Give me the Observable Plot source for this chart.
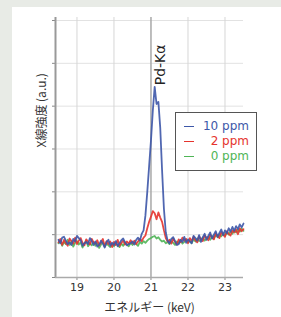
<!DOCTYPE html>
<html><head><meta charset="utf-8">
<script src="https://cdn.jsdelivr.net/npm/d3@7"></script>
<script src="https://cdn.jsdelivr.net/npm/@observablehq/plot@0.6"></script>
<style>
html,body{margin:0;padding:0;background:#e8ebe6;width:281px;height:317px;overflow:hidden}
#panel{position:absolute;left:12px;top:7px;width:269px;height:310px;background:#fff}
#legend{position:absolute;left:163px;top:105px;width:80px;height:57px;border:1px solid #555;background:#fff;font-family:"DejaVu Sans",sans-serif;font-size:12px}
.row{position:absolute;left:0;width:73px;height:14px;text-align:right}
.row span.sw{position:absolute;left:8px;top:7px;width:10px;height:0;border-top:1.5px solid}
</style></head><body>
<div id="panel"><div id="chart"></div>
<div id="legend"></div></div>
<script>
const series = ["10 ppm", "2 ppm", "0 ppm"];
const colors = ["#3d57a8", "#e5332d", "#4fb556"];
const energyStart = 18.5, energyStep = 0.05;
const blue = [0.88,0.80,0.93,0.95,0.86,0.78,0.82,0.76,0.90,0.84,
0.97,0.92,0.87,0.74,0.80,0.83,0.78,0.92,0.85,0.76,
0.84,0.72,0.76,0.86,0.79,0.70,0.83,0.88,0.74,0.81,
0.76,0.85,0.73,0.80,0.87,0.91,0.82,0.75,0.78,0.80,
0.84,0.77,0.88,0.93,0.86,1.02,1.10,1.45,2.0,2.6,
3.2,3.9,4.45,4.05,4.1,3.5,2.5,1.6,1.05,0.86,
0.80,0.90,0.94,0.85,0.76,0.78,0.88,0.83,0.95,0.81,
0.89,0.84,0.80,0.97,0.92,0.86,0.99,0.83,0.94,1.02,
0.88,0.97,1.05,0.91,1.00,1.08,0.95,1.04,1.12,0.99,
1.10,1.03,1.15,1.07,1.18,1.09,1.20,1.13,1.24,1.17,1.26];
const red = [0.82,0.90,0.76,0.88,0.80,0.74,0.91,0.85,0.79,0.93,
0.78,0.86,0.92,0.81,0.75,0.89,0.84,0.77,0.90,0.82,
0.79,0.87,0.75,0.82,0.90,0.73,0.85,0.78,0.84,0.71,
0.83,0.76,0.88,0.74,0.81,0.86,0.77,0.84,0.79,0.87,
0.80,0.86,0.78,0.84,0.90,0.85,0.93,0.98,1.15,1.30,
1.42,1.55,1.50,1.36,1.52,1.40,1.30,1.10,0.92,0.84,
0.88,0.79,0.91,0.83,0.77,0.89,0.82,0.93,0.86,0.90,
0.80,0.92,0.85,0.95,0.87,0.82,0.96,0.90,0.85,0.98,
0.93,0.87,1.00,0.94,0.89,1.03,0.97,0.92,1.06,1.00,
0.95,1.08,1.02,0.98,1.10,1.05,1.12,1.01,1.15,1.08,1.13];
const green = [0.80,0.86,0.74,0.83,0.78,0.88,0.76,0.84,0.72,0.81,
0.85,0.77,0.82,0.70,0.79,0.86,0.73,0.80,0.75,0.83,
0.74,0.80,0.69,0.77,0.83,0.72,0.79,0.75,0.71,0.78,
0.73,0.80,0.76,0.71,0.79,0.74,0.82,0.77,0.73,0.81,
0.76,0.82,0.78,0.74,0.83,0.79,0.85,0.81,0.86,0.90,
0.92,0.95,0.97,0.91,0.94,0.88,0.84,0.86,0.80,0.83,
0.78,0.85,0.81,0.76,0.84,0.80,0.87,0.79,0.83,0.88,
0.82,0.86,0.80,0.89,0.84,0.91,0.85,0.88,0.93,0.86,
0.90,0.95,0.88,0.97,0.92,0.99,0.94,1.01,0.96,1.03,
0.98,1.05,1.00,1.08,1.02,1.10,1.05,1.12,1.07,1.14,1.09];
const xTicks = [19, 20, 21, 22, 23];
const yTicks = [0, 1, 2, 3, 4, 5, 6];
const peakLabel = [{energy: 21.1, text: "Pd-Kα"}];
const xLabel = "エネルギー (keV)";
const yLabel = "X線強度 (a.u.)";

const values = [blue, red, green];
const rows = [];
[2, 1, 0].forEach(s => values[s].forEach((v, i) => rows.push({series: series[s], energy: energyStart + i * energyStep, value: v})));

const font = '"DejaVu Sans","Noto Sans CJK JP",sans-serif';
const jp = '"Noto Sans CJK JP","DejaVu Sans",sans-serif';
const chart = Plot.plot({
  width: 269, height: 310,
  marginLeft: 43, marginRight: 38, marginTop: 10, marginBottom: 40,
  style: {fontFamily: font, fontSize: "11px", color: "#333", background: "transparent"},
  x: {domain: [18.42, 23.5]},
  y: {domain: [0, 6.07]},
  color: {domain: series, range: colors},
  marks: [
    Plot.ruleY(yTicks.slice(1), {stroke: "#e2e2e2", strokeWidth: 1}),
    Plot.ruleX(xTicks, {stroke: d => d === 21 ? "#a8a8a8" : "#d6d6d6", strokeWidth: d => d === 21 ? 1.5 : 1}),
    Plot.line(rows, {x: "energy", y: "value", z: "series", stroke: "series", strokeWidth: 1.8, strokeOpacity: 0.9}),
    Plot.axisX({ticks: xTicks, tickSize: 3, tickPadding: 3, tickFormat: d3.format("d"), label: null, fontSize: 11, stroke: "#888"}),
    Plot.axisY({ticks: yTicks, tickSize: 3, tickFormat: () => "", label: null, stroke: "#888"}),
    Plot.ruleX([18.42], {stroke: "#999", strokeWidth: 2}),
    Plot.ruleY([0], {stroke: "#aaa", strokeWidth: 1.5}),
    Plot.text(peakLabel, {x: "energy", text: "text", frameAnchor: "top", dy: 27, rotate: -90, textAnchor: "end", fontSize: 14, fill: "#222"}),
    Plot.text([xLabel], {text: d => d, frameAnchor: "bottom", dy: 31, lineAnchor: "middle", fontSize: 12, fill: "#333", fontFamily: jp}),
    Plot.text([yLabel], {text: d => d, frameAnchor: "left", dx: -13, rotate: -90, fontSize: 12, fill: "#333", fontFamily: jp})
  ]
});
document.getElementById("chart").appendChild(chart);

const legend = document.getElementById("legend");
series.forEach((s, i) => {
  const r = document.createElement("div");
  r.className = "row";
  r.style.top = (6 + i * 15) + "px";
  r.style.color = colors[i];
  r.innerHTML = `<span class="sw" style="border-color:${colors[i]}"></span>${s}`;
  legend.appendChild(r);
});
</script></body></html>
